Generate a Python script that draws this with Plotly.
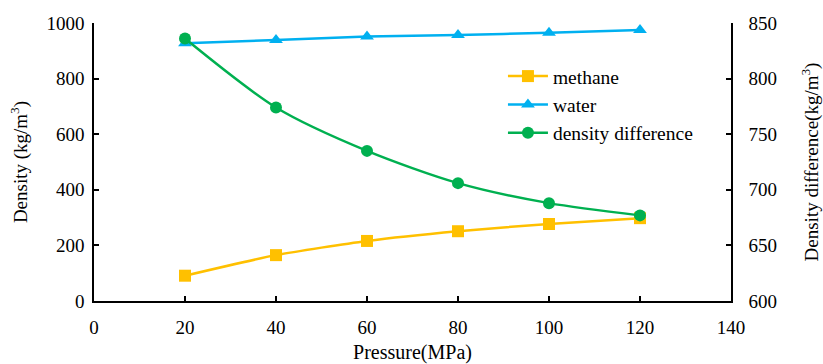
import plotly.graph_objects as go

pressure = [20, 40, 60, 80, 100, 120]
methane = [91, 165, 216, 251, 277, 298]
water = [927, 939, 951, 957, 965, 975]
density_diff = [836, 774, 735, 706, 688, 677]

FONT = "Times New Roman, Liberation Serif, Tinos, serif"

fig = go.Figure()
fig.add_trace(go.Scatter(x=pressure, y=methane, name="methane", mode="lines+markers",
                         line=dict(color="#FFC000", width=2.5, shape="spline", smoothing=0.6),
                         marker=dict(symbol="square", size=12, color="#FFC000")))
fig.add_trace(go.Scatter(x=pressure, y=water, name="water", mode="lines+markers",
                         line=dict(color="#00B0F0", width=2.5, shape="spline", smoothing=0.6),
                         marker=dict(symbol="triangle-up", size=12, color="#00B0F0")))
fig.add_trace(go.Scatter(x=pressure, y=density_diff, name="density difference", mode="lines+markers",
                         yaxis="y2",
                         line=dict(color="#00B050", width=2.5, shape="spline", smoothing=0.8),
                         marker=dict(symbol="circle", size=12, color="#00B050")))

axis_common = dict(showgrid=False, zeroline=False, showline=True, linecolor="black", linewidth=1.5,
                   ticks="inside", ticklen=5, tickwidth=1.5, tickcolor="black", automargin=False,
                   tickfont=dict(family=FONT, size=19, color="black"))

fig.update_layout(
    width=823, height=364,
    margin=dict(l=94, r=92, t=23, b=63),
    paper_bgcolor="white", plot_bgcolor="white",
    font=dict(family=FONT, color="black"),
    xaxis=dict(range=[0, 140], tickvals=[0, 20, 40, 60, 80, 100, 120, 140], ticklabelstandoff=8,
               title=dict(text="Pressure(MPa)", font=dict(family=FONT, size=20), standoff=14),
               **axis_common),
    yaxis=dict(range=[0, 1000], tickvals=[0, 200, 400, 600, 800, 1000], ticklabelstandoff=4,
               title=dict(text="Density (kg/m<sup>3</sup>)", font=dict(family=FONT, size=19), standoff=14),
               **axis_common),
    yaxis2=dict(range=[600, 850], tickvals=[600, 650, 700, 750, 800, 850], overlaying="y", side="right",
                ticklabelstandoff=12,
                title=dict(text="Density difference(kg/m<sup>3</sup>)", font=dict(family=FONT, size=19), standoff=34),
                **axis_common),
    legend=dict(x=0.642, y=0.878, xanchor="left", yanchor="top", bgcolor="rgba(0,0,0,0)",
                itemwidth=40, tracegroupgap=0,
                font=dict(family=FONT, size=19.5, color="black")),
    showlegend=True,
)

fig.write_html("out.html")
